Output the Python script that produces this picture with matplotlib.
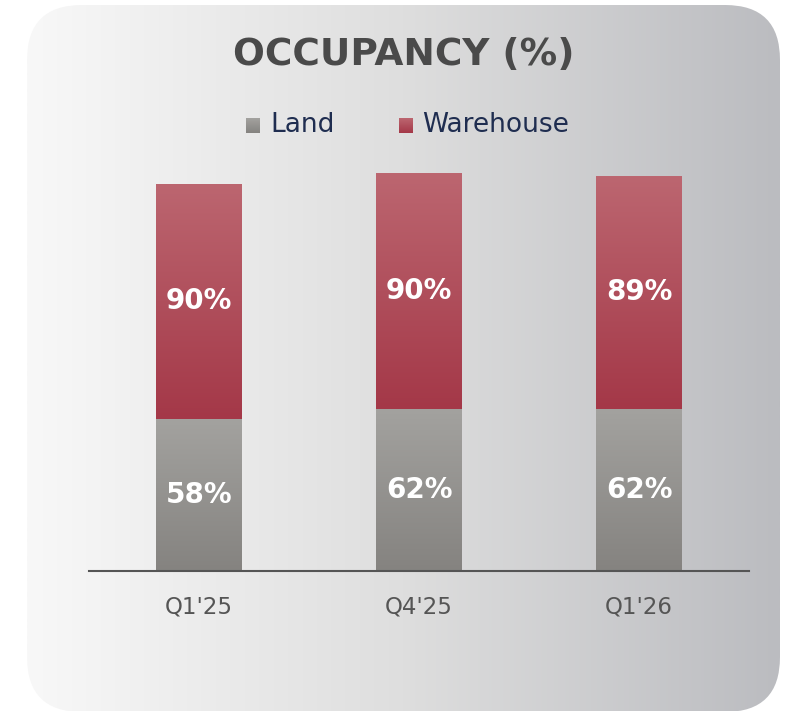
import matplotlib.pyplot as plt
import numpy as np
from matplotlib.colors import LinearSegmentedColormap
from matplotlib.patches import FancyBboxPatch

# data
quarters = ["Q1'25", "Q4'25", "Q1'26"]
land = [58, 62, 62]
warehouse = [90, 90, 89]

W, H = 789, 711
fig = plt.figure(figsize=(W / 100, H / 100), dpi=100)
fig.patch.set_facecolor('white')

# rounded background card with horizontal gradient
bg = fig.add_axes([0, 0, 1, 1])
bg.set_xlim(0, W)
bg.set_ylim(H, 0)
bg.axis('off')
card = FancyBboxPatch((27 + 55, 5 + 55), 753 - 110, 707 - 110,
                      boxstyle="round,pad=55", facecolor='none', edgecolor='none')
bg.add_patch(card)
bg_cmap = LinearSegmentedColormap.from_list('bg', ['#f8f8f8', '#dedede', '#bbbcc0'])
img = bg.imshow(np.linspace(0, 1, 256).reshape(1, -1), cmap=bg_cmap, aspect='auto',
                extent=[27, 780, 712, 5])
img.set_clip_path(card)

# title and legend
fig.text(404 / W, 1 - 55 / H, 'OCCUPANCY (%)', ha='center', va='center',
         fontsize=27, fontweight='bold', color='#4a4a4a')

land_cmap = LinearSegmentedColormap.from_list('land', ['#a3a29f', '#858380'])
wh_cmap = LinearSegmentedColormap.from_list('wh', ['#bc6670', '#a43848'])

def legend_square(x, cmap):
    sq = fig.add_axes([x / W, 1 - 133 / H, 14 / W, 15 / H])
    sq.imshow(np.linspace(0, 1, 64).reshape(-1, 1), cmap=cmap, aspect='auto')
    sq.axis('off')

legend_square(246, land_cmap)
legend_square(399, wh_cmap)
fig.text(270 / W, 1 - 125 / H, 'Land', ha='left', va='center', fontsize=19,
         color='#1f2d50')
fig.text(422 / W, 1 - 125 / H, 'Warehouse', ha='left', va='center', fontsize=19,
         color='#1f2d50')

# bars
ax = fig.add_axes([89 / W, 140 / H, 660 / W, 160 * 2.617 / H])
ax.set_facecolor('none')
x = np.arange(len(quarters))
width = 0.39
land_bars = ax.bar(x, land, width, color='none')
wh_bars = ax.bar(x, warehouse, width, bottom=land, color='none')

grad = np.linspace(0, 1, 128).reshape(-1, 1)
for bars, cmap in [(land_bars, land_cmap), (wh_bars, wh_cmap)]:
    for b in bars:
        x0, y0 = b.get_x(), b.get_y()
        im = ax.imshow(grad, cmap=cmap, aspect='auto',
                       extent=[x0, x0 + b.get_width(), y0, y0 + b.get_height()])
        im.set_clip_path(b)

for i in range(len(quarters)):
    ax.text(x[i], land[i] / 2, f'{land[i]}%', ha='center', va='center',
            fontsize=20, fontweight='bold', color='white')
    ax.text(x[i], land[i] + warehouse[i] / 2, f'{warehouse[i]}%', ha='center',
            va='center', fontsize=20, fontweight='bold', color='white')

ax.set_xlim(-0.5, 2.5)
ax.set_ylim(0, 160)
ax.set_xticks(x)
ax.set_xticklabels(quarters, fontsize=16.5, color='#555555')
ax.tick_params(axis='x', length=0, pad=18)
ax.set_yticks([])
for s in ['top', 'right', 'left']:
    ax.spines[s].set_visible(False)
ax.spines['bottom'].set_color('#555555')
ax.spines['bottom'].set_linewidth(1.5)

plt.savefig('out.png', dpi=100)
